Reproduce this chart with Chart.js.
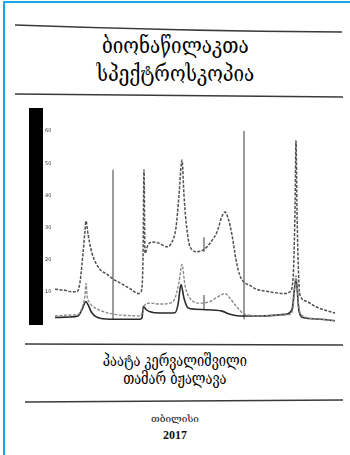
<!DOCTYPE html>
<html>
<head>
<meta charset="utf-8">
<script src="https://cdn.jsdelivr.net/npm/chart.js@4.4.1/dist/chart.umd.min.js"></script>
<style>
  html, body { margin: 0; padding: 0; background: #fff; }
  #page { position: relative; width: 350px; height: 455px; overflow: hidden; background: #fff; }
  #frame { position: absolute; left: 3px; top: 1px; width: 360px; height: 470px; border-left: 2px solid #1ba6e6; border-top: 2px solid #1ba6e6; }
  .t { position: absolute; left: 0; width: 350px; text-align: center; color: #111; white-space: nowrap; }
  #title1, #title2 { font-family: "DejaVu Serif", serif; font-size: 23px; color: #000; transform: scaleX(0.82); transform-origin: 177px 0; }
  #title1 { top: 32px; }
  #title2 { top: 60px; }
  #auth1, #auth2 { font-family: "DejaVu Serif", serif; font-size: 16px; color: #000; transform: scaleX(0.8); transform-origin: 174px 0; }
  #auth1 { top: 351px; }
  #auth2 { top: 369px; }
  #city { font-family: "DejaVu Serif", serif; font-size: 10px; top: 413px; }
  #year { font-family: "Liberation Serif", serif; font-weight: bold; font-size: 12px; top: 428px; }
  #rules { position: absolute; left: 0; top: 0; }
  #chartBox { position: absolute; left: 26px; top: 103px; width: 312px; height: 233px; }
</style>
</head>
<body>
<div id="page">
  <div id="frame"></div>
  <svg id="rules" width="350" height="455">
    <path d="M15,25 Q180,31 342,32" stroke="#3a3a3a" stroke-width="1.6" fill="none"/>
    <path d="M15,94 Q180,96 343,97" stroke="#3a3a3a" stroke-width="1.6" fill="none"/>
    <path d="M25,344 Q180,344 343,345" stroke="#3a3a3a" stroke-width="1.6" fill="none"/>
    <path d="M25,402 Q180,401 343,400" stroke="#3a3a3a" stroke-width="1.6" fill="none"/>
  </svg>
  <div class="t" id="title1">ბიონაწილაკთა</div>
  <div class="t" id="title2">სპექტროსკოპია</div>
  <div id="chartBox"><canvas id="c" width="312" height="233"></canvas></div>
  <div class="t" id="auth1">პაატა კერვალიშვილი</div>
  <div class="t" id="auth2">თამარ ბჟალავა</div>
  <div class="t" id="city">თბილისი</div>
  <div class="t" id="year">2017</div>
</div>
<script>
// Spectrum A (upper dashed curve)
const chanA = [19,29,36,41,44,47,49,50,52,56,64,71,77,84,94,102,105,107,108,109,112,117,124,131,136,140,143,146,148,150,154,161,169,176,181,186,189,192,196,200,204,208,214,219,234,249,254,257,259,260,261,263,264,271,279,289,299];
const intA  = [10.8,10.5,10,10,13,22,29,32,28,22,17,15.5,14,12.8,11,9.5,10,20,48,22,24.6,25.5,25,24,25.5,30,40,51,40,32,24,22.5,23.4,26,28.6,33.5,34.8,33,27.7,20,15,13,12,11,10,9.5,10,14,35,57,35,12,9,7,5.5,4.3,3.4];
// Spectrum B (lower dashed curve)
const chanB = [19,34,42,46,49,50,51,54,59,66,79,94,104,107,109,114,124,134,139,143,146,149,154,164,174,182,189,194,199,209,224,244,254,257,260,263,267,284,299];
const intB  = [2.5,2.8,3,5,9,12.6,9,6.5,5,4,3,2.6,2.5,4,6,6.5,6.2,6.5,8,13,18.5,12,8,6.5,7,8.5,9.5,8,6,3,2.5,2.8,3,5,15,5,2.5,1.5,1];
// Spectrum C (solid curve)
const chanC = [19,34,42,46,50,52,56,64,79,104,106,107.5,110,114,124,139,142,145,148,152,159,179,186,194,204,224,249,256,260,263,267,284,299];
const intC  = [2,2.2,2.5,4.5,7,6,3.4,1.8,1.5,1.5,2,5.5,4.5,3.8,3.4,3.5,6,12.3,8,5,4.6,4.3,4,3,2.5,2.5,3,4.5,14,4,2,1.5,1];
// Emission lines (sticks)
const lineChan = [77, 208, 168, 168];
const lineLow  = [1.5, 1.5, 22.5, 4.5];
const lineHigh = [48, 60, 27, 9];
// Axis ticks
const yTicks = [10, 20, 30, 40, 50, 60];
const yMax = 65;
const xMax = 300;

const pts = (xs, ys) => xs.map((x, i) => ({x, y: ys[i]}));

const datasets = [
  { data: pts(chanA, intA), borderColor: '#505050', borderWidth: 1.5, borderDash: [3, 1.5] },
  { data: pts(chanB, intB), borderColor: '#8a8a8a', borderWidth: 1.4, borderDash: [3, 1.5] },
  { data: pts(chanC, intC), borderColor: '#2a2a2a', borderWidth: 1.6 }
];
lineChan.forEach((x, i) => {
  datasets.push({ data: [{x, y: lineLow[i]}, {x, y: lineHigh[i]}], borderColor: '#5a5a5a', borderWidth: 1.2 });
});
datasets.forEach(d => { d.showLine = true; d.pointRadius = 0; d.fill = false; d.cubicInterpolationMode = 'monotone'; });

new Chart(document.getElementById('c'), {
  type: 'scatter',
  data: { datasets },
  options: {
    responsive: false,
    animation: false,
    layout: { padding: { left: 10, top: 4, right: 2, bottom: 5 } },
    plugins: { legend: { display: false }, tooltip: { enabled: false } },
    scales: {
      x: { type: 'linear', min: 0, max: xMax, display: false },
      y: {
        type: 'linear', min: 0, max: yMax, position: 'left',
        afterFit: s => { s.width = 0; },
        afterBuildTicks: s => { s.ticks = yTicks.map(v => ({ value: v })); },
        grid: { display: true, drawOnChartArea: false, drawTicks: false, color: 'rgba(0,0,0,0)' },
        border: { display: true, color: '#000', width: 14 },
        ticks: { mirror: true, padding: 9, color: '#333', font: { family: 'DejaVu Sans', size: 5 } }
      }
    }
  }
});
</script>
</body>
</html>
